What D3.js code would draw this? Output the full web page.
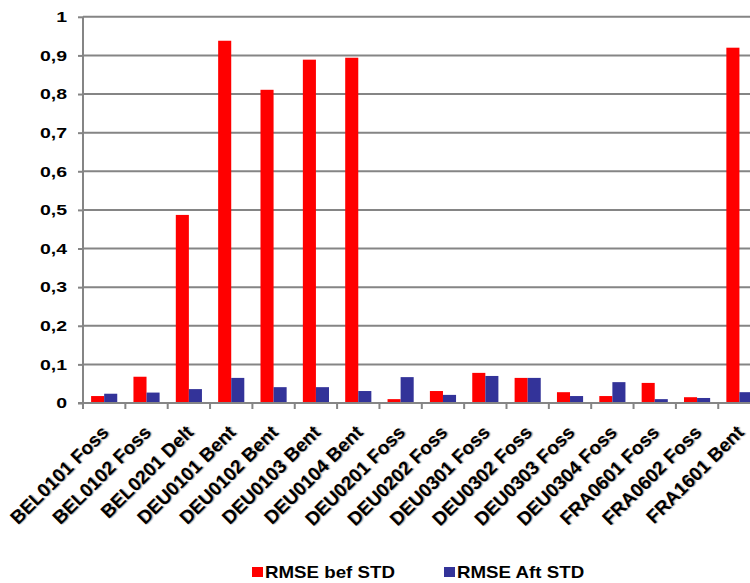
<!DOCTYPE html>
<html>
<head>
<meta charset="utf-8">
<script src="https://cdn.jsdelivr.net/npm/d3@7"></script>
<style>
  html, body { margin: 0; padding: 0; background: #fff; }
  svg { display: block; font-family: "Liberation Sans", Arial, sans-serif; }
</style>
</head>
<body>
<svg id="chart" width="750" height="583"></svg>
<script>
const categories = ["BEL0101 Foss","BEL0102 Foss","BEL0201 Delt","DEU0101 Bent","DEU0102 Bent","DEU0103 Bent","DEU0104 Bent","DEU0201 Foss","DEU0202 Foss","DEU0301 Foss","DEU0302 Foss","DEU0303 Foss","DEU0304 Foss","FRA0601 Foss","FRA0602 Foss","FRA1601 Bent"];
const seriesNames = ["RMSE bef STD", "RMSE Aft STD"];
const rmseBefore = [0.018, 0.068, 0.487, 0.938, 0.811, 0.889, 0.894, 0.010, 0.031, 0.078, 0.065, 0.028, 0.018, 0.052, 0.015, 0.920];
const rmseAfter  = [0.024, 0.027, 0.036, 0.065, 0.041, 0.041, 0.031, 0.067, 0.021, 0.070, 0.065, 0.018, 0.054, 0.010, 0.013, 0.028];
const yTicks = [0, 0.1, 0.2, 0.3, 0.4, 0.5, 0.6, 0.7, 0.8, 0.9, 1];
const colors = ["#ff0000", "#333399"];

const svg = d3.select("#chart");
const mLeft = 83, mTop = 16.8, mBottom = 403, catW = 42.35;
const mRight = mLeft + catW * categories.length;

const x = d3.scaleBand().domain(categories).range([mLeft, mRight]).paddingInner(0).paddingOuter(0);
const xs = d3.scaleBand().domain(seriesNames).range([0, catW]).paddingInner(0).paddingOuter(0.62);
const y = d3.scaleLinear().domain([0, 1]).range([mBottom, mTop]);

const fmt = v => d3.format("~g")(v).replace(".", ",");

// gridlines
svg.append("g").selectAll("line").data(yTicks.filter(d => d > 0)).join("line")
  .attr("x1", mLeft).attr("x2", mRight)
  .attr("y1", d => y(d)).attr("y2", d => y(d))
  .attr("stroke", "#858585").attr("stroke-width", 2);

// bars
const data = categories.map((c, i) => ({c, vals: [rmseBefore[i], rmseAfter[i]]}));
const g = svg.append("g").selectAll("g").data(data).join("g")
  .attr("transform", d => `translate(${x(d.c)},0)`);
g.selectAll("rect").data(d => d.vals.map((v, k) => ({v, k}))).join("rect")
  .attr("x", d => xs(seriesNames[d.k]))
  .attr("width", xs.bandwidth())
  .attr("y", d => y(d.v))
  .attr("height", d => y(0) - y(d.v))
  .attr("fill", d => colors[d.k]);

// y axis
const yAxis = svg.append("g").attr("transform", `translate(${mLeft},0)`)
  .call(d3.axisLeft(y).tickValues(yTicks).tickFormat(fmt).tickSize(5).tickPadding(16));
yAxis.select(".domain").attr("stroke", "#858585").attr("stroke-width", 2).attr("d", `M0,${mBottom+6}V${mTop}`);
yAxis.selectAll(".tick line").attr("stroke", "#858585").attr("stroke-width", 2);
yAxis.selectAll(".tick text")
  .attr("fill", "#000").style("font-size", "15px").style("font-weight", "bold")
  .attr("x", -16 / 1.3)
  .attr("transform", "scale(1.3,1)");

// x axis
const xAxis = svg.append("g").attr("transform", `translate(0,${mBottom})`)
  .call(d3.axisBottom(x).tickSize(0).tickFormat(""));
xAxis.select(".domain").attr("stroke", "#858585").attr("stroke-width", 2).attr("d", `M${mLeft-5},0H${mRight}`);
svg.append("g").selectAll("line").data(d3.range(categories.length + 1)).join("line")
  .attr("x1", i => mLeft + i * catW).attr("x2", i => mLeft + i * catW)
  .attr("y1", mBottom).attr("y2", mBottom + 6)
  .attr("stroke", "#858585").attr("stroke-width", 2);

svg.append("g").selectAll("text").data(categories).join("text")
  .attr("transform", d => `translate(${x(d) + x.bandwidth() / 2 - 4},${mBottom + 21}) rotate(-45)`)
  .attr("text-anchor", "end")
  .attr("dominant-baseline", "hanging")
  .style("font-size", "19px").style("font-weight", "bold")
  .style("text-shadow", "1px 1px 1px rgba(0,0,0,0.35)")
  .text(d => d);

// legend
const legend = svg.append("g");
const lx = [252, 444];
seriesNames.forEach((s, k) => {
  legend.append("rect").attr("x", lx[k]).attr("y", 567).attr("width", 11).attr("height", 10).attr("fill", colors[k]);
  legend.append("text").attr("transform", `translate(${lx[k] + 13},578) scale(1.17,1)`)
    .style("font-size", "16px").style("font-weight", "bold").text(s);
});
</script>
</body>
</html>
